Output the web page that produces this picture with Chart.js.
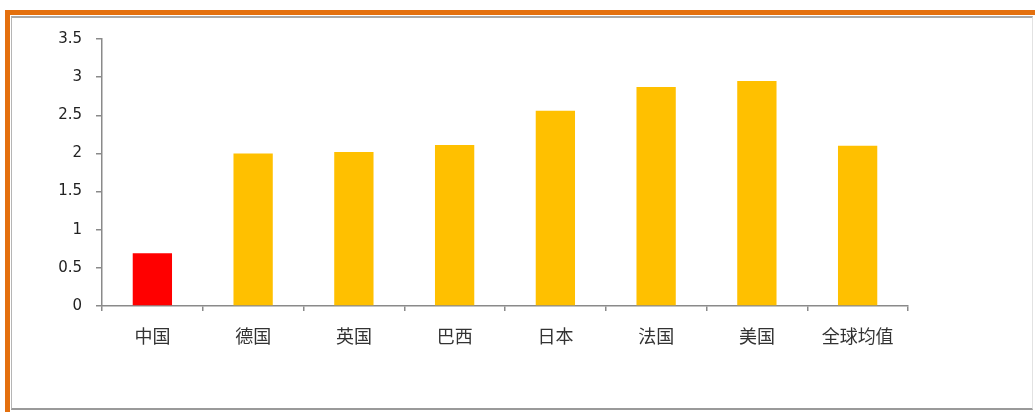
<!DOCTYPE html>
<html>
<head>
<meta charset="utf-8">
<script src="https://cdn.jsdelivr.net/npm/chart.js@4/dist/chart.umd.min.js"></script>
<style>
  html, body { margin: 0; padding: 0; background: #fff; width: 1035px; height: 412px; overflow: hidden; }
  #orange { position: absolute; left: 5px; top: 10px; width: 1030px; height: 402px;
            border-top: 5px solid #E4700E; border-left: 5px solid #E4700E; box-sizing: border-box; }
  #inner { position: absolute; left: 11px; top: 16px; width: 1022px; height: 394px;
           border-top: 2px solid #a9a9a9; border-left: 1px solid #b5b5b5;
           border-bottom: 2px solid #9a9a9a; border-right: 1px solid #e2e2e2; box-sizing: border-box; background: #fff; }
  #c { position: absolute; left: 0; top: 0; }
</style>
</head>
<body>
<div id="orange"></div>
<div id="inner"></div>
<canvas id="c" width="1035" height="412"></canvas>
<script>
const categories = ["中国", "德国", "英国", "巴西", "日本", "法国", "美国", "全球均值"];
const values = [0.69, 2.0, 2.02, 2.11, 2.56, 2.87, 2.95, 2.10];
const barColors = ["#FF0000", "#FFC000", "#FFC000", "#FFC000", "#FFC000", "#FFC000", "#FFC000", "#FFC000"];
const yTicks = [0, 0.5, 1, 1.5, 2, 2.5, 3, 3.5];

new Chart(document.getElementById('c'), {
  type: 'bar',
  data: {
    labels: categories,
    datasets: [{
      data: values,
      backgroundColor: barColors,
      borderWidth: 0,
      categoryPercentage: 1,
      barPercentage: 0.39
    }]
  },
  options: {
    responsive: false,
    animation: false,
    devicePixelRatio: 1,
    layout: { padding: { left: 0, right: 127, top: 39, bottom: 0 } },
    plugins: { legend: { display: false }, tooltip: { enabled: false } },
    scales: {
      x: {
        afterFit: s => { s.height = 106; },
        border: { color: '#8a8a8a', width: 1.5 },
        grid: { drawOnChartArea: false, drawTicks: true, tickLength: 5, color: '#8a8a8a', lineWidth: 1.5, offset: true },
        ticks: { color: '#333', padding: 14, font: { family: '"Noto Sans CJK SC", sans-serif', size: 18 } }
      },
      y: {
        min: 0, max: 3.5,
        afterFit: s => { s.width = 102; },
        afterBuildTicks: s => { s.ticks = yTicks.map(v => ({ value: v })); },
        border: { color: '#8a8a8a', width: 1.5 },
        grid: { drawOnChartArea: false, drawTicks: true, tickLength: 6, color: '#8a8a8a', lineWidth: 1.5 },
        ticks: { color: '#222', padding: 14, font: { family: '"DejaVu Sans", sans-serif', size: 15 },
                 callback: v => String(v) }
      }
    }
  }
});
</script>
</body>
</html>
